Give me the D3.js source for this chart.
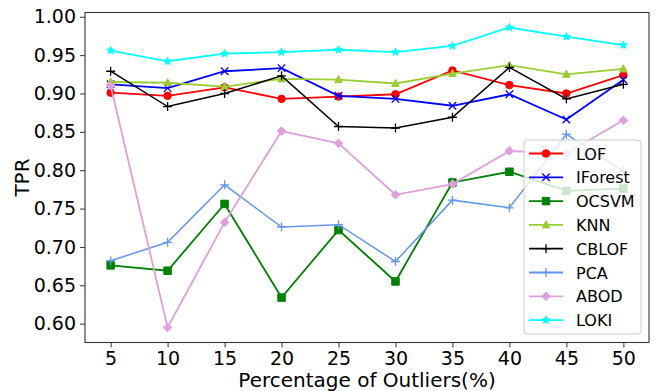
<!DOCTYPE html>
<html>
<head>
<meta charset="utf-8">
<script src="https://cdn.jsdelivr.net/npm/d3@7"></script>
<style>
  body { margin: 0; background: #fff; }
  svg { display: block; font-family: "DejaVu Sans", sans-serif; }
</style>
</head>
<body>
<svg id="chart"></svg>
<script>
// outlier percentages on the x axis
var percents = [5, 10, 15, 20, 25, 30, 35, 40, 45, 50];

// TPR per method
var lof     = [0.901, 0.897, 0.908, 0.893, 0.896, 0.899, 0.930, 0.911, 0.900, 0.924];
var iforest = [0.912, 0.907, 0.929, 0.933, 0.897, 0.893, 0.884, 0.899, 0.866, 0.918];
var ocsvm   = [0.676, 0.669, 0.756, 0.634, 0.722, 0.655, 0.784, 0.798, 0.773, 0.776];
var knn     = [0.915, 0.914, 0.909, 0.919, 0.918, 0.913, 0.926, 0.937, 0.925, 0.932];
var cblof   = [0.929, 0.883, 0.900, 0.923, 0.857, 0.855, 0.869, 0.934, 0.893, 0.912];
var pca     = [0.682, 0.706, 0.781, 0.726, 0.729, 0.681, 0.761, 0.751, 0.847, 0.799];
var abod    = [0.910, 0.595, 0.732, 0.851, 0.835, 0.768, 0.782, 0.825, 0.822, 0.865];
var loki    = [0.956, 0.942, 0.952, 0.954, 0.957, 0.954, 0.962, 0.986, 0.974, 0.963];

var yTicks = [0.60, 0.65, 0.70, 0.75, 0.80, 0.85, 0.90, 0.95, 1.00];

var series = [
    { name: "LOF",     values: lof,     color: "red",            marker: "o" },
    { name: "IForest", values: iforest, color: "blue",           marker: "x" },
    { name: "OCSVM",   values: ocsvm,   color: "green",          marker: "s" },
    { name: "KNN",     values: knn,     color: "yellowgreen",    marker: "^" },
    { name: "CBLOF",   values: cblof,   color: "black",          marker: "+" },
    { name: "PCA",     values: pca,     color: "cornflowerblue", marker: "+" },
    { name: "ABOD",    values: abod,    color: "plum",           marker: "D" },
    { name: "LOKI",    values: loki,    color: "cyan",           marker: "*" }
];

var W = 657, H = 391;
var margin = { top: 12.5, right: 8, bottom: 48.5, left: 85 };
var width = W - margin.left - margin.right;
var height = H - margin.top - margin.bottom;

var svg = d3.select("#chart").attr("width", W).attr("height", H);
var g = svg.append("g").attr("transform", `translate(${margin.left},${margin.top})`);

// matplotlib style 5% margins around the data
var x = d3.scaleLinear().domain([2.75, 52.25]).range([0, width]);
var yMin = 0.595, yMax = 0.986, pad = (yMax - yMin) * 0.05;
var y = d3.scaleLinear().domain([yMin - pad, yMax + pad]).range([height, 0]);

// axes
var xAxis = g.append("g")
    .attr("transform", `translate(0,${height})`)
    .call(d3.axisBottom(x).tickValues(percents).tickSize(5).tickPadding(4).tickFormat(d3.format("d")));
var yAxis = g.append("g")
    .call(d3.axisLeft(y).tickValues(yTicks).tickSize(5).tickPadding(4).tickFormat(d3.format(".2f")));
[xAxis, yAxis].forEach(function (a) {
    a.select(".domain").remove();
    a.selectAll("line").attr("stroke", "#333");
    a.selectAll("text").attr("fill", "#000").style("font-size", "19px")
        .style("font-family", "DejaVu Sans");
});

// marker path builder
function markerPath(type, s) {
    var h = s / 2;
    if (type === "o") return d3.symbol(d3.symbolCircle, Math.PI * h * h)();
    if (type === "s") return `M${-h},${-h}H${h}V${h}H${-h}Z`;
    if (type === "^") return `M0,${-h * 1.1}L${h},${h * 0.8}L${-h},${h * 0.8}Z`;
    if (type === "D") { var d = h * 1.15; return `M0,${-d}L${d},0L0,${d}L${-d},0Z`; }
    if (type === "x") return `M${-h},${-h}L${h},${h}M${-h},${h}L${h},${-h}`;
    if (type === "+") return `M${-h},0H${h}M0,${-h}V${h}`;
    if (type === "*") {
        var pts = [];
        for (var i = 0; i < 10; i++) {
            var r = i % 2 === 0 ? h * 1.1 : h * 0.45;
            var a = -Math.PI / 2 + i * Math.PI / 5;
            pts.push([r * Math.cos(a), r * Math.sin(a)]);
        }
        return "M" + pts.map(p => p.join(",")).join("L") + "Z";
    }
}
var strokeOnly = { "x": true, "+": true };

function drawMarker(sel, s) {
    sel.append("path")
        .attr("d", markerPath(s.marker, s.marker === "+" ? 9 : 7.5))
        .attr("fill", strokeOnly[s.marker] ? "none" : s.color)
        .attr("stroke", s.color)
        .attr("stroke-width", strokeOnly[s.marker] ? 1.3 : 1);
}

var line = d3.line().x((d, i) => x(percents[i])).y(d => y(d));

series.forEach(function (s) {
    var sg = g.append("g");
    sg.append("path")
        .datum(s.values)
        .attr("d", line)
        .attr("fill", "none")
        .attr("stroke", s.color)
        .attr("stroke-width", s.name === "PCA" || s.name === "CBLOF" ? 1.5 : 1.8);
    sg.selectAll(".m")
        .data(s.values)
        .enter().append("g")
        .attr("transform", (d, i) => `translate(${x(percents[i])},${y(d)})`)
        .each(function () { drawMarker(d3.select(this), s); });
});

// frame
g.append("rect")
    .attr("width", width).attr("height", height)
    .attr("fill", "none").attr("stroke", "#333").attr("stroke-width", 1.1);

// axis labels
svg.append("text")
    .attr("x", margin.left + width / 2)
    .attr("y", 386.5)
    .attr("text-anchor", "middle")
    .style("font-size", "20px")
    .text("Percentage of Outliers(%)");

svg.append("text")
    .attr("transform", `translate(29,${margin.top + height / 2}) rotate(-90)`)
    .attr("text-anchor", "middle")
    .style("font-size", "20px")
    .text("TPR");

// legend
var legend = svg.append("g").attr("transform", "translate(524,140)");
legend.append("rect")
    .attr("width", 117).attr("height", 194).attr("rx", 3)
    .attr("fill", "white").attr("fill-opacity", 0.8)
    .attr("stroke", "#ccc").attr("stroke-width", 1);

series.forEach(function (s, i) {
    var row = legend.append("g").attr("transform", `translate(0,${13.5 + i * 23.8})`);
    row.append("line")
        .attr("x1", 5).attr("x2", 39)
        .attr("stroke", s.color).attr("stroke-width", 1.8);
    var mk = row.append("g").attr("transform", "translate(22,0)");
    drawMarker(mk, s);
    row.append("text")
        .attr("x", 52).attr("y", 6)
        .style("font-size", "16px")
        .text(s.name);
});
</script>
</body>
</html>
